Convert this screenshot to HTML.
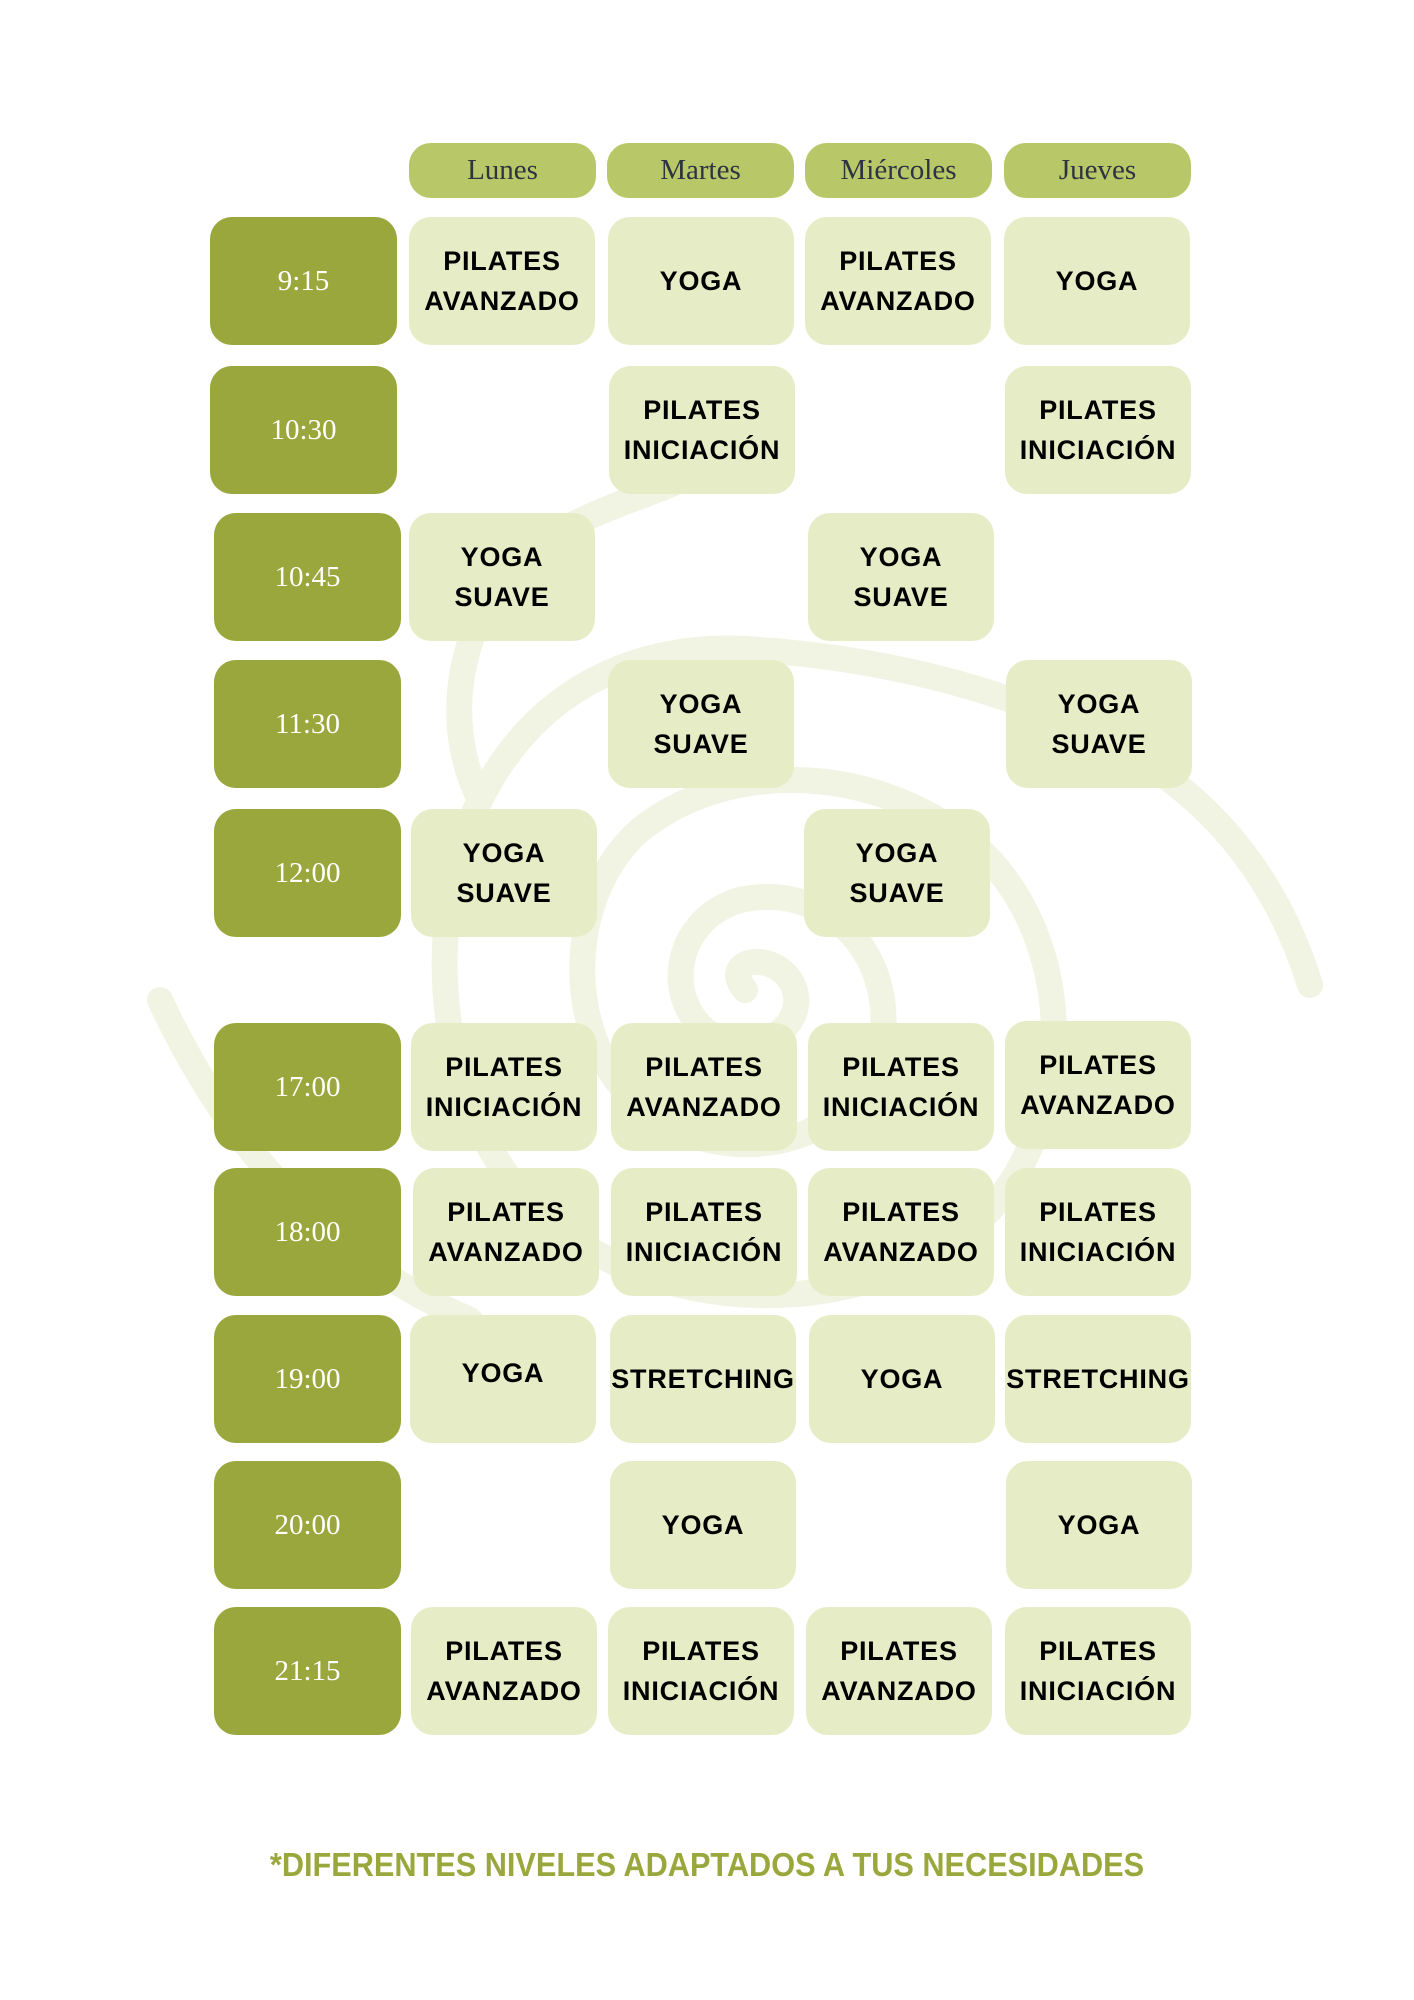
<!DOCTYPE html>
<html><head><meta charset="utf-8"><style>
body{margin:0;width:1414px;height:2000px;background:#fff;position:relative;overflow:hidden;font-family:"Liberation Sans",sans-serif}
.b{position:absolute;display:flex;align-items:center;justify-content:center;text-align:center;border-radius:22px}
.h{background:#b8c768;color:#2d3340;font-family:"Liberation Serif",serif;font-size:29px;height:55px;width:187px;top:143px}
.t{background:#9aa73c;color:#fff;font-family:"Liberation Serif",serif;font-size:29px;width:187px;height:128px}
.c{background:#e6edc6;color:#000;font-weight:bold;font-size:27px;letter-spacing:0.8px;line-height:40px;width:186px;height:128px;white-space:nowrap}
.f{position:absolute;left:0;width:1414px;top:1846px;text-align:center;color:#9aa73c;font-weight:bold;font-size:33px;transform:scaleX(0.93)}
</style></head><body>
<svg width="1414" height="2000" style="position:absolute;left:0;top:0" fill="none" stroke="#f1f4e3" stroke-width="26" stroke-linecap="round">
<path d="M745 990 C720 960 770 950 790 980 C815 1020 760 1060 720 1040 C660 1010 670 920 740 900 C830 880 900 960 880 1050 C860 1140 740 1170 660 1120 C560 1060 560 900 640 830 C740 750 900 770 990 860 C1080 960 1070 1120 990 1210 C880 1320 680 1320 560 1230 C430 1130 420 920 480 800 C540 680 650 640 760 650"/>
<path d="M760 650 C900 660 1060 700 1170 780 C1250 840 1290 920 1310 985"/>
<path d="M480 800 C440 720 460 620 520 560 C580 510 640 500 680 480"/>
<path d="M160 1000 C230 1150 330 1260 470 1320"/>
</svg>
<div class="b h" style="left:409px">Lunes</div>
<div class="b h" style="left:607px">Martes</div>
<div class="b h" style="left:805px">Miércoles</div>
<div class="b h" style="left:1004px">Jueves</div>

<div class="b t" style="left:210px;top:217px">9:15</div>
<div class="b t" style="left:210px;top:366px">10:30</div>
<div class="b t" style="left:214px;top:513px">10:45</div>
<div class="b t" style="left:214px;top:660px">11:30</div>
<div class="b t" style="left:214px;top:809px">12:00</div>
<div class="b t" style="left:214px;top:1023px">17:00</div>
<div class="b t" style="left:214px;top:1168px">18:00</div>
<div class="b t" style="left:214px;top:1315px">19:00</div>
<div class="b t" style="left:214px;top:1461px">20:00</div>
<div class="b t" style="left:214px;top:1607px">21:15</div>

<div class="b c" style="left:409px;top:217px">PILATES<br>AVANZADO</div>
<div class="b c" style="left:608px;top:217px">YOGA</div>
<div class="b c" style="left:805px;top:217px">PILATES<br>AVANZADO</div>
<div class="b c" style="left:1004px;top:217px">YOGA</div>

<div class="b c" style="left:609px;top:366px">PILATES<br>INICIACIÓN</div>
<div class="b c" style="left:1005px;top:366px">PILATES<br>INICIACIÓN</div>

<div class="b c" style="left:409px;top:513px">YOGA<br>SUAVE</div>
<div class="b c" style="left:808px;top:513px">YOGA<br>SUAVE</div>

<div class="b c" style="left:608px;top:660px">YOGA<br>SUAVE</div>
<div class="b c" style="left:1006px;top:660px">YOGA<br>SUAVE</div>

<div class="b c" style="left:411px;top:809px">YOGA<br>SUAVE</div>
<div class="b c" style="left:804px;top:809px">YOGA<br>SUAVE</div>

<div class="b c" style="left:411px;top:1023px">PILATES<br>INICIACIÓN</div>
<div class="b c" style="left:611px;top:1023px">PILATES<br>AVANZADO</div>
<div class="b c" style="left:808px;top:1023px">PILATES<br>INICIACIÓN</div>
<div class="b c" style="left:1005px;top:1021px">PILATES<br>AVANZADO</div>

<div class="b c" style="left:413px;top:1168px">PILATES<br>AVANZADO</div>
<div class="b c" style="left:611px;top:1168px">PILATES<br>INICIACIÓN</div>
<div class="b c" style="left:808px;top:1168px">PILATES<br>AVANZADO</div>
<div class="b c" style="left:1005px;top:1168px">PILATES<br>INICIACIÓN</div>

<div class="b c" style="left:410px;top:1315px;align-items:flex-start;padding-top:38px;box-sizing:border-box">YOGA</div>
<div class="b c" style="left:610px;top:1315px">STRETCHING</div>
<div class="b c" style="left:809px;top:1315px">YOGA</div>
<div class="b c" style="left:1005px;top:1315px">STRETCHING</div>

<div class="b c" style="left:610px;top:1461px">YOGA</div>
<div class="b c" style="left:1006px;top:1461px">YOGA</div>

<div class="b c" style="left:411px;top:1607px">PILATES<br>AVANZADO</div>
<div class="b c" style="left:608px;top:1607px">PILATES<br>INICIACIÓN</div>
<div class="b c" style="left:806px;top:1607px">PILATES<br>AVANZADO</div>
<div class="b c" style="left:1005px;top:1607px">PILATES<br>INICIACIÓN</div>

<div class="f">*DIFERENTES NIVELES ADAPTADOS A TUS NECESIDADES</div>
</body></html>
